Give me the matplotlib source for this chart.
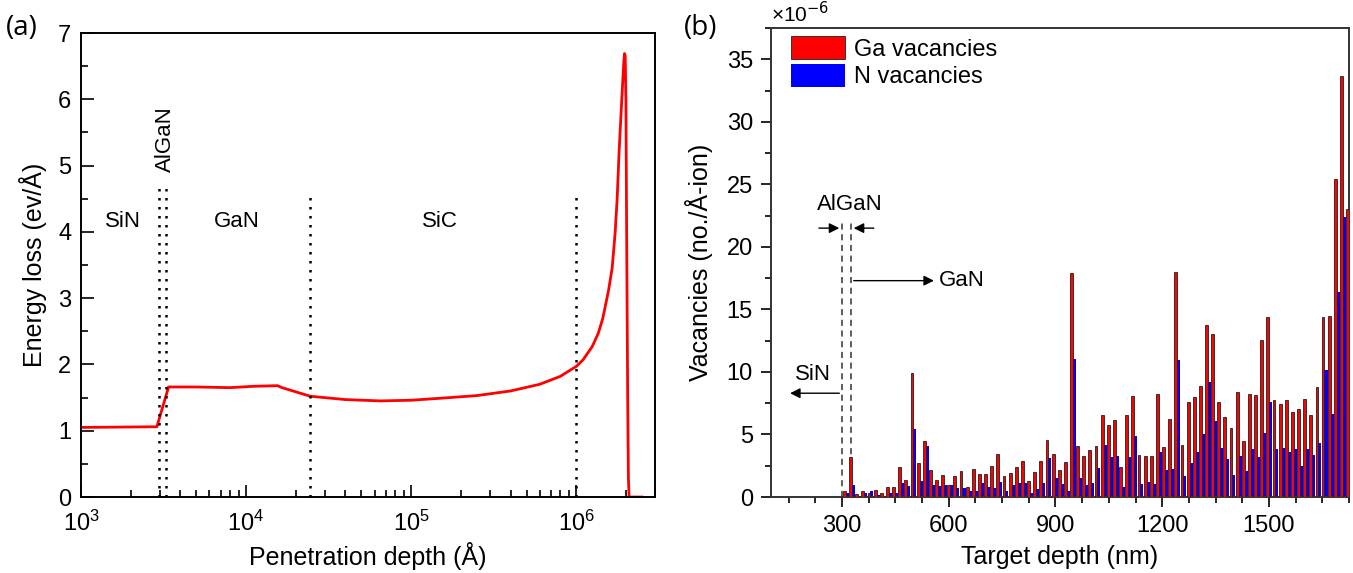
import numpy as np
import matplotlib
matplotlib.use("Agg")
import matplotlib.pyplot as plt
from matplotlib.ticker import MultipleLocator, LogLocator, NullFormatter

plt.rcParams['font.family'] = ['Liberation Sans', 'DejaVu Sans']
plt.rcParams['axes.linewidth'] = 1.4

# ============================================================================
# (a) energy loss along penetration depth
depth_A = [1000, 2880, 3390, 5000, 8000, 11000, 15500, 16500, 24500, 40000,
           65000, 1.0e5, 1.5e5, 2.5e5, 4.0e5, 6.0e5, 8.0e5, 1.0e6, 1.1e6,
           1.25e6, 1.36e6, 1.45e6, 1.57e6, 1.65e6, 1.72e6, 1.77e6, 1.82e6,
           1.87e6, 1.91e6, 1.94e6, 1.96e6, 1.98e6, 2.00e6, 2.02e6, 2.05e6,
           2.07e6, 2.09e6, 2.5e6]
energy_loss = [1.05, 1.06, 1.66, 1.66, 1.65, 1.67, 1.68, 1.65, 1.52, 1.47,
               1.45, 1.46, 1.49, 1.53, 1.60, 1.70, 1.82, 1.97, 2.07,
               2.27, 2.47, 2.70, 3.12, 3.45, 3.98, 4.50, 5.23,
               5.80, 6.24, 6.55, 6.69, 6.66, 6.00, 3.98, 1.50,
               0.30, 0.0, 0.0]

# layer boundaries (Å) and height of the dotted markers
boundaries_A = [2980, 3260, 24500, 1.0e6]
boundary_top = [4.75, 4.75, 4.6, 4.6]

# ============================================================================
# (b) vacancies per bin (x 1e-6 no./Å-ion), bins of 17.25 nm
bin_width = 17.25
bin_index = np.arange(18, 101)
target_depth = bin_index * bin_width

ga_vac = [0.5, 3.2, 0.25, 0.45, 0.35, 0.6, 0.35, 0.8, 0.8, 2.4,
          1.4, 9.9, 2.7, 4.45, 2.2, 1.4, 1.8, 1.0, 1.7, 2.1,
          0.8, 2.25, 1.87, 1.81, 2.51, 3.44, 1.71, 1.89, 2.43, 2.91,
          1.28, 1.97, 2.91, 4.57, 3.42, 2.13, 2.78, 17.9, 4.08, 3.31,
          3.76, 4.08, 6.57, 5.74, 6.12, 2.43, 6.52, 8.09, 3.39, 3.31,
          3.28, 8.22, 4.03, 6.22, 17.96, 4.16, 7.63, 7.98, 8.89, 13.78,
          13.03, 7.63, 6.38, 5.50, 8.36, 4.51, 8.25, 8.17, 12.52, 14.36,
          7.77, 7.45, 7.77, 6.78, 7.02, 7.85, 6.57, 8.76, 14.36, 14.5,
          25.4, 33.7, 23.0]
n_vac = [0.3, 1.0, 0.1, 0.3, 0.5, 0.2, 0.1, 0.3, 0.3, 1.1,
         0.9, 5.4, 1.3, 4.1, 1.0, 0.9, 1.0, 0.96, 0.75, 0.75,
         0.48, 0.48, 1.09, 0.78, 0.69, 1.23, 0.48, 0.96, 1.09, 1.15,
         0.29, 0.61, 1.09, 3.15, 1.49, 1.04, 0.48, 11.05, 1.49, 0.96,
         1.09, 2.35, 4.16, 3.17, 3.28, 0.78, 3.17, 4.88, 1.04, 1.23,
         1.04, 3.63, 2.16, 2.24, 10.97, 1.71, 2.70, 3.63, 5.05, 9.16,
         6.09, 3.95, 3.02, 1.76, 3.28, 2.11, 3.84, 3.23, 5.10, 7.58,
         3.84, 3.95, 3.63, 3.84, 2.48, 3.82, 3.36, 4.35, 10.17, 6.62,
         16.39, 22.4, 14.58]

# ============================================================================
fig = plt.figure(figsize=(13.53, 5.73), dpi=100)
ax1 = fig.add_axes([0.0599, 0.1326, 0.4242, 0.8098])
ax2 = fig.add_axes([0.5698, 0.1326, 0.4272, 0.8185])

# ---------------- panel (a)
ax1.plot(depth_A, energy_loss, color='red', lw=2)
for xb, top in zip(boundaries_A, boundary_top):
    ax1.plot([xb, xb], [0, top], color='black', lw=1.8,
             linestyle=(0, (1, 2.6)))

ax1.set_xscale('log')
ax1.set_xlim(1e3, 3e6)
ax1.set_ylim(0, 7)
ax1.yaxis.set_major_locator(MultipleLocator(1))
ax1.yaxis.set_minor_locator(MultipleLocator(0.5))
ax1.xaxis.set_major_locator(LogLocator(base=10, numticks=10))
ax1.xaxis.set_minor_locator(LogLocator(base=10, subs=np.arange(2, 10),
                                       numticks=20))
ax1.xaxis.set_minor_formatter(NullFormatter())
ax1.tick_params(which='both', direction='in', labelsize=17, width=1.2)
ax1.tick_params(which='major', length=9, pad=7)
ax1.tick_params(axis='x', which='major', pad=10)
ax1.tick_params(which='minor', length=5)

ax1.text(1800, 4.15, 'SiN', fontsize=16, ha='center', va='center')
ax1.text(8800, 4.15, 'GaN', fontsize=16, ha='center', va='center')
ax1.text(1.5e5, 4.15, 'SiC', fontsize=16, ha='center', va='center')
ax1.text(3250, 5.4, 'AlGaN', fontsize=16, ha='center', va='center',
         rotation=90)

ax1.set_xlabel('Penetration depth (Å)', fontsize=18, labelpad=4)
ax1.set_ylabel('Energy loss (ev/Å)', fontsize=18, labelpad=8)

# ---------------- panel (b)
ax2.bar(target_depth - 3.75, ga_vac, width=8.0, color='red',
        edgecolor='#202020', linewidth=0.6, label='Ga vacancies', zorder=3)
ax2.bar(target_depth + 4.5, n_vac, width=8.5, color='blue',
        edgecolor='none', label='N vacancies', zorder=2)

ax2.set_xlim(100, 1725)
ax2.set_ylim(0, 37.5)
ax2.xaxis.set_major_locator(MultipleLocator(300))
ax2.xaxis.set_minor_locator(MultipleLocator(75))
ax2.yaxis.set_major_locator(MultipleLocator(5))
ax2.yaxis.set_minor_locator(MultipleLocator(2.5))
ax2.tick_params(which='both', direction='out', labelsize=17, width=1.2)
ax2.tick_params(which='major', length=7, pad=6)
ax2.tick_params(which='minor', length=4)
for sp in ax2.spines.values():
    sp.set_color('#333333')
ax2.text(0.0, 1.004, r'×10$^{-6}$', transform=ax2.transAxes,
         fontsize=15, ha='left', va='bottom')

# layer markers
for xb in [300, 325]:
    ax2.plot([xb, xb], [0, 21.9], color='#333333', lw=1.1,
             linestyle=(0, (4, 3)))
arrow = dict(arrowstyle='-|>', color='black', lw=1.0, mutation_scale=15)
ax2.annotate('', xy=(300, 21.5), xytext=(227, 21.5), arrowprops=arrow)
ax2.annotate('', xy=(325, 21.5), xytext=(397, 21.5), arrowprops=arrow)
ax2.text(323, 23.4, 'AlGaN', fontsize=16, ha='center', va='center')
ax2.annotate('', xy=(566, 17.3), xytext=(325, 17.3), arrowprops=arrow)
ax2.text(572, 17.3, 'GaN', fontsize=16, ha='left', va='center')
ax2.annotate('', xy=(146, 8.3), xytext=(300, 8.3), arrowprops=arrow)
ax2.text(218, 9.8, 'SiN', fontsize=16, ha='center', va='center')

ax2.legend(loc='upper left', bbox_to_anchor=(0.035, 0.983), frameon=False,
           fontsize=17, handlelength=2.3, handleheight=1.15,
           handletextpad=0.35, labelspacing=0.12, borderpad=0,
           borderaxespad=0)

ax2.set_xlabel('Target depth (nm)', fontsize=18, labelpad=6)
ax2.set_ylabel('Vacancies (no./Å-ion)', fontsize=18, labelpad=10)

# panel letters
fig.text(0.016, 0.952, '(a)', fontsize=20, family='Open Sans',
         ha='center', va='center')
fig.text(0.518, 0.952, '(b)', fontsize=20, family='Open Sans',
         ha='center', va='center')

fig.savefig('out.png', dpi=100)
